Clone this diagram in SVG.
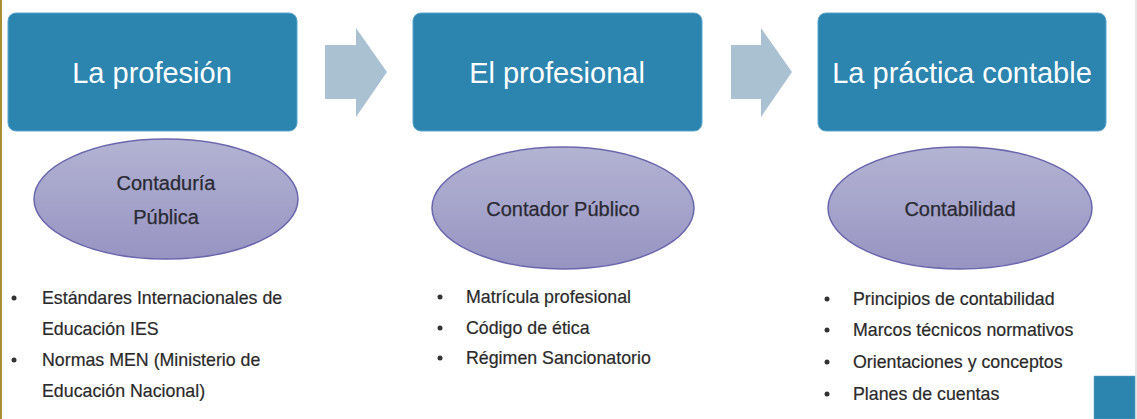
<svg xmlns="http://www.w3.org/2000/svg" width="1137" height="419" viewBox="0 0 1137 419">
<style>
.box{fill:#2b85ae;stroke:#5aa5cc;stroke-width:1}
.title{font-family:"Liberation Sans",Arial,sans-serif;font-size:29px;fill:#ffffff;text-anchor:middle}
.ell{fill:url(#eg);stroke:#6b67ad;stroke-width:1.5}
.etext{font-family:"Liberation Sans",Arial,sans-serif;font-size:20px;fill:#2a2a33;text-anchor:middle;stroke:#2a2a33;stroke-width:0.25}
.arrow{fill:#aac1d2}
.bl{font-family:"Liberation Sans",Arial,sans-serif;font-size:17.8px;fill:#2a2a2a;stroke:#2a2a2a;stroke-width:0.2}
.dot{fill:#333333}
</style>
<defs>
<linearGradient id="eg" x1="0" y1="0" x2="0" y2="1">
<stop offset="0" stop-color="#b3b3d3"/>
<stop offset="1" stop-color="#9794c2"/>
</linearGradient>
</defs>
<rect x="0" y="0" width="1137" height="419" fill="#ffffff"/>
<rect x="0" y="0" width="2" height="419" fill="#a89030"/>
<rect x="1135" y="0" width="2" height="419" fill="#e6e6e6"/>

<g id="connectors">
<polygon class="arrow" points="325,45 356,45 356,28 387,72 356,117 356,99 325,99"/>
<polygon class="arrow" points="731,45 761,45 761,28 792,72 761,117 761,99 731,99"/>
</g>

<g id="node-profesion">
<rect class="box" x="8" y="13" width="289" height="118" rx="8"/>
<text class="title" x="152" y="83">La profesión</text>
</g>
<g id="node-profesional">
<rect class="box" x="413" y="13" width="289" height="118" rx="8"/>
<text class="title" x="557" y="83">El profesional</text>
</g>
<g id="node-practica">
<rect class="box" x="818" y="13" width="288" height="118" rx="8"/>
<text class="title" x="962" y="83">La práctica contable</text>
</g>

<g id="node-contaduria">
<ellipse class="ell" cx="166" cy="199" rx="132" ry="60"/>
<text class="etext" x="166" y="190">Contaduría</text>
<text class="etext" x="166" y="224">Pública</text>
</g>
<g id="node-contador">
<ellipse class="ell" cx="563" cy="208" rx="131" ry="61"/>
<text class="etext" x="563" y="216">Contador Público</text>
</g>
<g id="node-contabilidad">
<ellipse class="ell" cx="960" cy="208" rx="132" ry="61"/>
<text class="etext" x="960" y="216">Contabilidad</text>
</g>

<g id="list-profesion">
<circle class="dot" cx="14" cy="298" r="2.5"/>
<text class="bl" x="42" y="304">Estándares Internacionales de</text>
<text class="bl" x="42" y="335">Educación IES</text>
<circle class="dot" cx="14" cy="360" r="2.5"/>
<text class="bl" x="42" y="366">Normas MEN (Ministerio de</text>
<text class="bl" x="42" y="397">Educación Nacional)</text>
</g>
<g id="list-profesional">
<circle class="dot" cx="440" cy="297" r="2.5"/>
<text class="bl" x="466" y="303">Matrícula profesional</text>
<circle class="dot" cx="440" cy="328" r="2.5"/>
<text class="bl" x="466" y="334">Código de ética</text>
<circle class="dot" cx="440" cy="358" r="2.5"/>
<text class="bl" x="466" y="364">Régimen Sancionatorio</text>
</g>
<g id="list-practica">
<circle class="dot" cx="827" cy="299" r="2.5"/>
<text class="bl" x="853" y="305">Principios de contabilidad</text>
<circle class="dot" cx="827" cy="330" r="2.5"/>
<text class="bl" x="853" y="336">Marcos técnicos normativos</text>
<circle class="dot" cx="827" cy="362" r="2.5"/>
<text class="bl" x="853" y="368">Orientaciones y conceptos</text>
<circle class="dot" cx="827" cy="394" r="2.5"/>
<text class="bl" x="853" y="400">Planes de cuentas</text>
</g>

<rect x="1094" y="376" width="41" height="43" fill="#2b85ae" stroke="#5aa5cc" stroke-width="0.5"/>
</svg>
